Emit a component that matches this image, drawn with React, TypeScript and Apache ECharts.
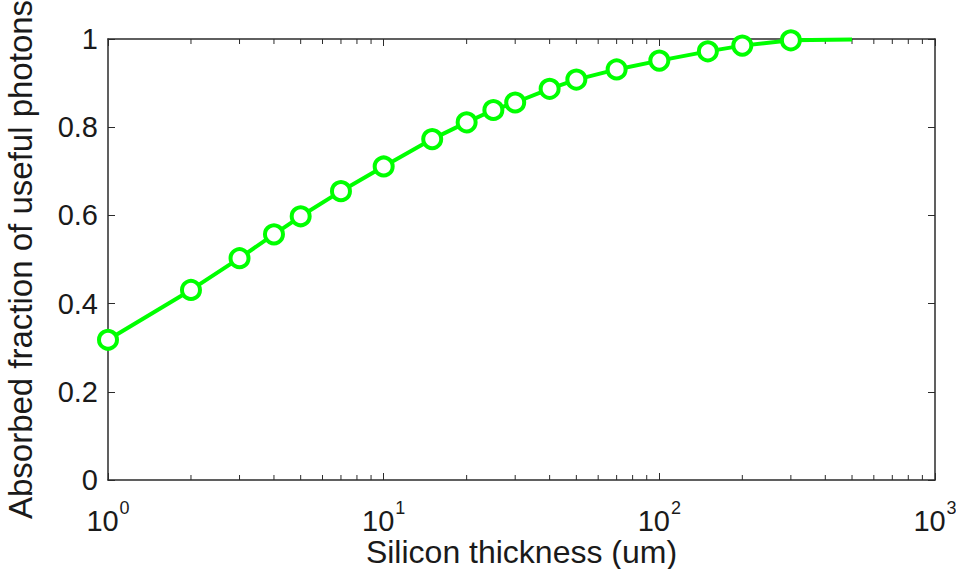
import React, { useEffect, useRef } from "react";
import * as echarts from "echarts";

// Silicon thickness (um) and the absorbed fraction of useful photons at each thickness
const thickness = [1, 2, 3, 4, 5, 7, 10, 15, 20, 25, 30, 40, 50, 70, 100, 150, 200, 300, 500];
const absorbed = [
  0.318, 0.431, 0.503, 0.557, 0.598, 0.655, 0.711, 0.773, 0.811, 0.839,
  0.856, 0.887, 0.908, 0.931, 0.951, 0.972, 0.985, 0.997, 0.999,
];
// the 500 um point carries the line only, without a marker
const unmarked = [500];

// minor ticks of the logarithmic thickness axis
const minorTicks = [
  2, 3, 4, 5, 6, 7, 8, 9,
  20, 30, 40, 50, 60, 70, 80, 90,
  200, 300, 400, 500, 600, 700, 800, 900,
];

const yTicks = [0, 0.2, 0.4, 0.6, 0.8, 1];

const FONT = "Liberation Sans, Arial, Helvetica, sans-serif";
const AXIS_COLOR = "#2b2b2b";
const TEXT_COLOR = "#1a1a1a";
const GREEN = "#00ff00";

export default function App() {
  const ref = useRef<HTMLDivElement>(null);

  useEffect(() => {
    document.body.style.margin = "0";
    if (!ref.current) return;
    const chart = echarts.init(ref.current, null, { renderer: "svg" });

    const axisLine = { show: true, onZero: false, lineStyle: { color: AXIS_COLOR, width: 1.5 } };
    const tickStyle = { show: true, inside: true, length: 7, lineStyle: { color: AXIS_COLOR, width: 1 } };

    chart.setOption({
      animation: false,
      backgroundColor: "#ffffff",
      grid: { left: 108, right: 21, top: 39, bottom: 89, containLabel: false, outerBoundsMode: "none" },
      xAxis: [
        {
          type: "log",
          logBase: 10,
          min: 1,
          max: 1000,
          position: "bottom",
          name: "Silicon thickness (um)",
          nameLocation: "middle",
          nameGap: 56,
          nameMoveOverlap: false,
          nameTextStyle: { fontFamily: FONT, fontSize: 32, lineHeight: 32, color: TEXT_COLOR },
          axisLine,
          axisTick: tickStyle,
          splitLine: { show: false },
          axisLabel: {
            margin: 19,
            fontFamily: FONT,
            color: TEXT_COLOR,
            formatter: (v: number) => `{b|10}{s|${Math.round(Math.log10(v))}}`,
            rich: {
              b: { fontFamily: FONT, fontSize: 29, lineHeight: 29, color: TEXT_COLOR, verticalAlign: "bottom" },
              s: {
                fontFamily: FONT,
                fontSize: 18,
                lineHeight: 36,
                color: TEXT_COLOR,
                verticalAlign: "top",
                padding: [0, 0, 0, 1],
              },
            },
          },
        },
        {
          type: "log",
          logBase: 10,
          min: 1,
          max: 1000,
          position: "top",
          axisLine,
          axisTick: tickStyle,
          axisLabel: { show: false },
          splitLine: { show: false },
        },
      ],
      yAxis: [
        {
          type: "value",
          min: 0,
          max: 1,
          interval: 0.2,
          position: "left",
          name: "Absorbed fraction of useful photons",
          nameLocation: "middle",
          nameGap: 71,
          nameMoveOverlap: false,
          nameTextStyle: { fontFamily: FONT, fontSize: 33, color: TEXT_COLOR },
          axisLine,
          axisTick: tickStyle,
          splitLine: { show: false },
          axisLabel: {
            margin: 10,
            fontFamily: FONT,
            fontSize: 29,
            color: TEXT_COLOR,
            formatter: (v: number) => (yTicks.includes(Number(v.toFixed(1))) ? String(Number(v.toFixed(1))) : ""),
          },
        },
        {
          type: "value",
          min: 0,
          max: 1,
          interval: 0.2,
          position: "right",
          axisLine,
          axisTick: tickStyle,
          axisLabel: { show: false },
          splitLine: { show: false },
        },
      ],
      series: [
        {
          type: "custom",
          xAxisIndex: 0,
          yAxisIndex: 0,
          silent: true,
          clip: false,
          z: 1,
          encode: { x: 0, y: 1 },
          data: minorTicks.map((v) => [v, 0]),
          renderItem: (_params: any, api: any) => {
            const x = api.value(0);
            const b = api.coord([x, 0]);
            const t = api.coord([x, 1]);
            const st = { stroke: AXIS_COLOR, lineWidth: 1 };
            return {
              type: "group",
              children: [
                { type: "line", shape: { x1: b[0], y1: b[1], x2: b[0], y2: b[1] - 5 }, style: st },
                { type: "line", shape: { x1: t[0], y1: t[1], x2: t[0], y2: t[1] + 5 }, style: st },
              ],
            };
          },
        },
        {
          type: "line",
          xAxisIndex: 0,
          yAxisIndex: 0,
          z: 5,
          clip: false,
          symbol: "circle",
          symbolSize: 18,
          showAllSymbol: true,
          lineStyle: { color: GREEN, width: 4 },
          itemStyle: { color: "#ffffff", borderColor: GREEN, borderWidth: 4 },
          data: thickness.map((t, i) =>
            unmarked.includes(t)
              ? { value: [t, absorbed[i]], symbol: "none" }
              : { value: [t, absorbed[i]] }
          ),
        },
      ],
    });

    return () => chart.dispose();
  }, []);

  return <div ref={ref} style={{ width: 956, height: 569 }} />;
}
